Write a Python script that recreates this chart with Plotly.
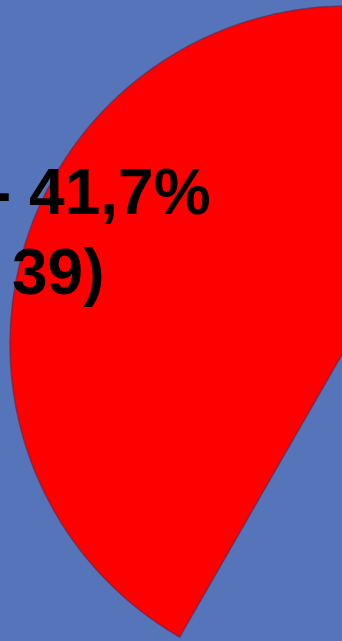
import plotly.graph_objects as go

# Data (only the 41,7% slice is visible in the crop; the rest is hidden off-frame)
categories = ["Outros", "Sim"]
values = [58.3, 41.7]
counts = [55, 39]
slice_colors = ["#5674BA", "#FF0000"]

BG = "#5674BA"
W, H = 700, 700

fig = go.Figure(go.Pie(
    labels=categories,
    values=values,
    sort=False,
    direction="clockwise",
    rotation=0,
    textinfo="none",
    marker=dict(colors=slice_colors,
                line=dict(color=["rgba(0,0,0,0)", "rgba(90,40,70,0.6)"], width=[0, 1.5])),
    domain=dict(x=[10 / W, 686 / W], y=[18 / H, 694 / H]),
    showlegend=False,
))

font = dict(family="Liberation Sans, Arial, sans-serif", size=64, color="black")
fig.add_annotation(text="<b>- %s%%</b>" % f"{values[1]:.1f}".replace(".", ","),
                   xref="paper", yref="paper", x=-12 / W, y=1 - 192 / H,
                   xanchor="left", yanchor="middle", showarrow=False, font=font)
fig.add_annotation(text="<b>%d)</b>" % counts[1],
                   xref="paper", yref="paper", x=10 / W, y=1 - 272 / H,
                   xanchor="left", yanchor="middle", showarrow=False, font=font)

fig.update_layout(width=W, height=H, margin=dict(l=0, r=0, t=0, b=0),
                  paper_bgcolor=BG, plot_bgcolor=BG)

fig.write_html("out.html",
               post_script="document.body.style.margin='0';document.body.style.overflow='hidden';document.documentElement.style.overflow='hidden';")
